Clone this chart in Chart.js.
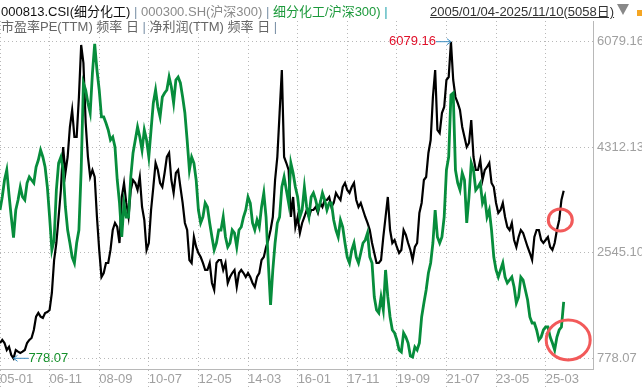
<!DOCTYPE html>
<html lang="zh">
<head>
<meta charset="UTF-8">
<title>细分化工 / 沪深300</title>
<script src="https://cdn.jsdelivr.net/npm/chart.js@4.4.0/dist/chart.umd.min.js"></script>
<style>
    body {
        margin: 0;
        background: #fff;
        font-family: "Liberation Sans", "Noto Sans CJK SC", sans-serif;
    }
    .wrap {
        position: relative;
        width: 642px;
        height: 388px;
        overflow: hidden;
    }
    canvas {
        position: absolute;
        left: 0;
        top: 0;
    }
    .row {
        position: absolute;
        left: 1px;
        font-size: 13px;
        line-height: 16px;
        white-space: nowrap;
        z-index: 2;
    }
    .sep { color: #7d93a8; }
    .range {
        position: absolute;
        left: 430px;
        top: 4px;
        font-size: 13px;
        line-height: 16px;
        color: #333;
        text-decoration: underline;
        white-space: nowrap;
        z-index: 2;
    }
    .tri {
        position: absolute;
        left: 617px;
        top: 4px;
        width: 0;
        height: 0;
        border-left: 6px solid transparent;
        border-right: 6px solid transparent;
        border-top: 11px solid #888;
    }
    .dot {
        position: absolute;
        left: 637px;
        top: 10px;
        width: 5px;
        height: 6px;
        background: #f5a623;
    }
</style>
</head>
<body>
<div class="wrap">
    <canvas id="ratioChart" width="642" height="388"></canvas>
    <div class="row" style="top:4px">
        <span style="color:#111">000813.CSI(细分化工)</span>
        <span class="sep">|</span>
        <span style="color:#8a8a8a">000300.SH(沪深300)</span>
        <span class="sep">|</span>
        <span style="color:#1d9a3c">细分化工/沪深300)</span>
        <span style="color:#2aa6b0">|</span>
    </div>
    <div class="row" style="top:19px;color:#666">
        市盈率PE(TTM) 频率 日 <span class="sep">|</span> 净利润(TTM) 频率 日 <span class="sep">|</span>
    </div>
    <div class="range">2005/01/04-2025/11/10(5058日)</div>
    <div class="tri"></div>
    <div class="dot"></div>
</div>

<script>
    // one point per month, starting 2005-01
    const STEP_MONTHS = 1;

    // 000813.CSI (black)
    const blackSeries = [
        1034, 1085, 1034, 917, 972, 833, 778.07, 917, 889, 867,
        889, 917, 1034, 1085, 1118, 1252, 1475, 1537, 1475, 1453,
        1537, 1554, 1587, 1872, 2424, 2709, 3144, 3596, 4316, 3881,
        4149, 4651, 4936, 4484, 4484, 5153, 6024, 5723, 4718, 4149,
        3814, 3931, 3814, 3144, 2592, 2139, 2206, 2374, 2374, 2592,
        2926, 3044, 2977, 2709, 3479, 3713, 3379, 3144, 3596, 3764,
        3713, 3596, 3814, 3312, 3094, 2592, 2709, 3261, 3646, 4048,
        3931, 3713, 3646, 3881, 4149, 4216, 3764, 3546, 3881, 3931,
        3646, 3379, 3044, 2926, 2424, 2374, 2809, 2642, 2541, 2474,
        2374, 2257, 2257, 2374, 2039, 1922, 2374, 2424, 2424, 2257,
        2374, 2039, 2139, 2206, 2257, 1972, 2206, 2257, 2206, 2139,
        2206, 2139, 2039, 1972, 2139, 2206, 2424, 2474, 2642, 2759,
        2926, 3144, 3764, 4149, 4885, 5605, 4149, 4048, 3931, 3144,
        3479, 2977, 3144, 2876, 3044, 3144, 3261, 3144, 3261, 3261,
        3312, 3211, 3379, 3312, 3429, 3429, 3479, 3312, 3379, 3546,
        3479, 3429, 3646, 3713, 3596, 3546, 3646, 3713, 3429, 3312,
        3379, 3261, 3144, 3044, 2926, 2709, 2541, 2374, 2374, 2424,
        2809, 3144, 3479, 2926, 2709, 2759, 2642, 2541, 2592, 2926,
        2843, 2709, 2592, 2424, 2642, 2709, 3211, 3379, 3764, 3814,
        4216, 4433, 5153, 5605, 4601, 4550, 4885, 4986, 5438, 5488,
        6079.16, 5438, 5153, 5053, 4936, 4651, 4484, 4316, 4383, 4768,
        4149, 3931, 3931, 4098, 3764, 3931, 3981, 4048, 3713, 3646,
        3379, 3211, 3261, 3379, 3144, 2977, 2926, 3044, 2759, 2642,
        2809, 2926, 2876, 2759, 2642, 2541, 2424, 2809, 2926, 2926,
        2759, 2709, 2759, 2809, 2642, 2592, 2709, 2926, 3094, 3429,
        3584
    ];

    // 细分化工/沪深300 (green)
    const greenSeries = [
        3261, 3479, 3764, 3931, 3513, 3144, 2800, 3261, 3429, 3646,
        3479, 3429, 3713, 3814, 3764, 3713, 3981, 4098, 4266, 4149,
        3981, 3646, 3144, 2592, 2759, 3596, 4048, 4149, 3931, 3312,
        2926, 2709, 2474, 2374, 2709, 2926, 3931, 5388, 5271, 5053,
        4885, 5555, 6041, 5605, 5271, 4819, 4819, 4718, 4601, 4433,
        4484, 4316, 3764, 3379, 2809, 3379, 3144, 3144, 3814, 4216,
        4433, 4651, 4484, 4266, 4601, 4433, 4149, 4601, 5053, 5271,
        4986, 4819, 5153, 5220, 5271, 5488, 5321, 5053, 5438, 5488,
        5388, 5153, 4885, 4433, 3931, 4149, 4048, 3764, 3261, 3044,
        3144, 3379, 3312, 3044, 2809, 2592, 2709, 2926, 2926, 3144,
        2809, 2642, 2709, 2926, 2876, 2642, 2926, 2977, 3144, 3261,
        3479, 3379, 3044, 2926, 3094, 2977, 3312, 3546, 3144, 2374,
        1671, 2257, 2709, 3044, 3144, 3646, 3814, 3596, 3379, 4048,
        3881, 3646, 3479, 3144, 3261, 3646, 3312, 3144, 3479, 3546,
        3429, 3261, 3379, 3546, 3429, 3261, 3379, 3379, 3094, 2926,
        2809, 3094, 2977, 2709, 2474, 2374, 2592, 2709, 2474, 2374,
        2541, 2709, 2759, 2876, 2474, 2374, 1805, 1587, 1537, 1805,
        1587, 2257, 1805, 1470, 1252, 1202, 1085, 917, 884, 1202,
        1135, 1034, 817, 800, 967, 917, 1034, 1470, 1704, 1922,
        2206, 2374, 2709, 3261, 2809, 2709, 2809, 3144, 3931, 4149,
        5187, 5220, 3931, 3713, 3596, 3881, 3764, 3044, 3479, 4048,
        3931, 3596, 3646, 3713, 3379, 3479, 3144, 3261, 2926, 2474,
        2257, 2139, 2257, 2374, 2139, 2039, 2089, 2139, 1972, 1704,
        1805, 2139, 2089, 1922, 1754, 1470, 1369, 1369, 1252, 1085,
        1135, 1252, 1302, 1302, 1135, 1034, 917, 1135, 1252, 1302,
        1721
    ];

    const yTicks = [778.07, 2545.10, 4312.13, 6079.16];
    const xTickMonths = [0, 22, 44, 66, 88, 110, 132, 154, 176, 198, 220, 242];
    const xTickLabels = ['05-01', '06-11', '08-09', '10-07', '12-05', '14-03',
                         '16-01', '17-11', '19-09', '21-07', '23-05', '25-03'];

    const toPoints = arr => arr.map((v, i) => ({ x: i * STEP_MONTHS, y: v }));

    const gridGrey = '#b8b8b8';
    const labelGrey = '#a0a0a0';

    // max / min call-outs and the two red rings
    const calloutPlugin = {
        id: 'callouts',
        afterDatasetsDraw(chart) {
            const { ctx, scales: { x, y } } = chart;
            const maxV = Math.max(...blackSeries);
            const minV = Math.min(...blackSeries);
            const maxX = x.getPixelForValue(blackSeries.indexOf(maxV) * STEP_MONTHS);
            const minX = x.getPixelForValue(blackSeries.indexOf(minV) * STEP_MONTHS);
            const maxY = y.getPixelForValue(maxV);
            const minY = y.getPixelForValue(minV);

            ctx.save();
            ctx.font = '13px "Liberation Sans", sans-serif';
            ctx.textBaseline = 'middle';
            ctx.strokeStyle = '#3d8ec2';
            ctx.lineWidth = 1;

            // max arrow
            ctx.beginPath();
            ctx.moveTo(maxX - 15, maxY);
            ctx.lineTo(maxX, maxY);
            ctx.moveTo(maxX - 4, maxY - 3);
            ctx.lineTo(maxX, maxY);
            ctx.lineTo(maxX - 4, maxY + 3);
            ctx.stroke();
            ctx.fillStyle = '#e0102a';
            ctx.textAlign = 'right';
            ctx.fillText(maxV.toFixed(2), maxX - 15, maxY);

            // min arrow
            ctx.beginPath();
            ctx.moveTo(minX + 15, minY);
            ctx.lineTo(minX, minY);
            ctx.moveTo(minX + 4, minY - 3);
            ctx.lineTo(minX, minY);
            ctx.lineTo(minX + 4, minY + 3);
            ctx.stroke();
            ctx.fillStyle = '#14902a';
            ctx.textAlign = 'left';
            ctx.fillText(minV.toFixed(2), minX + 15, minY);

            // red rings
            ctx.strokeStyle = '#f25a5a';
            ctx.lineWidth = 3;
            ctx.beginPath();
            ctx.ellipse(x.getPixelForValue(248.5), y.getPixelForValue(3094), 12, 11, 0, 0, Math.PI * 2);
            ctx.stroke();
            ctx.beginPath();
            ctx.ellipse(x.getPixelForValue(252), y.getPixelForValue(1085), 22, 20, 0, 0, Math.PI * 2);
            ctx.stroke();
            ctx.restore();
        }
    };

    new Chart(document.getElementById('ratioChart'), {
        type: 'line',
        data: {
            datasets: [{
                label: '000813.CSI',
                data: toPoints(blackSeries),
                borderColor: '#000',
                borderWidth: 2.2,
                order: 2
            }, {
                label: '细分化工/沪深300',
                data: toPoints(greenSeries),
                borderColor: '#078d3c',
                borderWidth: 2.8,
                order: 1
            }]
        },
        options: {
            responsive: false,
            devicePixelRatio: 1,
            animation: false,
            layout: { padding: { top: 21, left: 0, right: 0, bottom: 0 } },
            elements: {
                point: { radius: 0 },
                line: { tension: 0 }
            },
            plugins: {
                legend: { display: false },
                tooltip: { enabled: false }
            },
            scales: {
                x: {
                    type: 'linear',
                    min: 0,
                    max: 263,
                    afterBuildTicks: s => { s.ticks = xTickMonths.map(v => ({ value: v })); },
                    afterFit: s => { s.height = 19; },
                    grid: {
                        color: gridGrey,
                        tickColor: gridGrey,
                        tickLength: 19,
                        tickBorderDash: [1, 3]
                    },
                    border: { display: true, color: gridGrey, dash: [1, 3] },
                    ticks: {
                        align: 'start',
                        padding: -16,
                        maxRotation: 0,
                        autoSkip: false,
                        color: labelGrey,
                        font: { size: 13, family: '"Liberation Sans", sans-serif' },
                        callback: v => xTickLabels[xTickMonths.indexOf(v)]
                    }
                },
                y: {
                    position: 'right',
                    min: 598.9,
                    max: 6425.8,
                    afterBuildTicks: s => { s.ticks = yTicks.map(v => ({ value: v })); },
                    afterFit: s => { s.width = 49; },
                    grid: { color: gridGrey, drawTicks: false },
                    border: { display: true, color: gridGrey, dash: [1, 3] },
                    ticks: {
                        padding: 4,
                        color: labelGrey,
                        font: { size: 13, family: '"Liberation Sans", sans-serif' },
                        callback: v => v.toFixed(2)
                    }
                }
            }
        },
        plugins: [calloutPlugin]
    });
</script>
</body>
</html>
